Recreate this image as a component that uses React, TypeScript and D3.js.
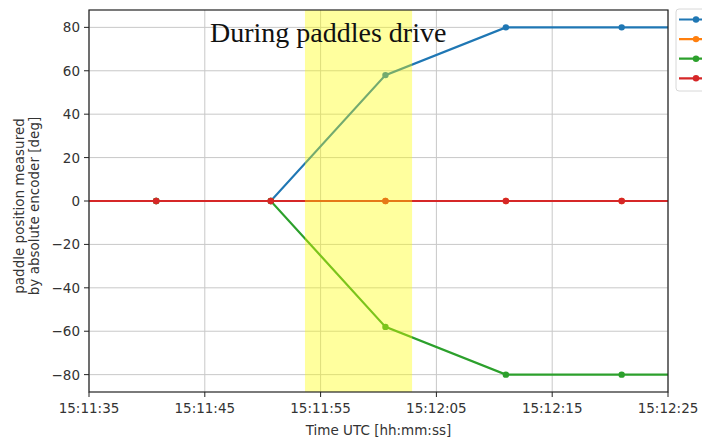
import React from "react";
import * as d3 from "d3";

const times = ["15:11:30.8", "15:11:40.8", "15:11:50.7", "15:12:00.6", "15:12:11.0", "15:12:21.0", "15:12:31.0"];
const paddleA = [0, 0, 0, 58, 80, 80, 80];
const paddleB = [0, 0, 0, 0, 0, 0, 0];
const paddleC = [0, 0, 0, -58, -80, -80, -80];
const paddleD = [0, 0, 0, 0, 0, 0, 0];
const seriesNames = ["paddle A", "paddle B", "paddle C", "paddle D"];
const xTicks = ["15:11:35", "15:11:45", "15:11:55", "15:12:05", "15:12:15", "15:12:25"];
const yTicks = [-80, -60, -40, -20, 0, 20, 40, 60, 80];
const driveSpan = ["15:11:53.65", "15:12:02.9"];
const xDomain = ["15:11:35", "15:12:25"];
const yDomain = [-88, 88];

const colors = ["#1f77b4", "#ff7f0e", "#2ca02c", "#d62728"];

const parse = (s: string) => {
  const [h, m, sec] = s.split(":");
  return new Date(Date.UTC(2020, 0, 1, +h, +m, 0, Math.round(parseFloat(sec) * 1000)));
};

export default function App() {
  const W = 702, H = 441;
  const m = { left: 89, right: 668, top: 10, bottom: 392 };
  const x = d3.scaleUtc().domain(xDomain.map(parse)).range([m.left, m.right]);
  const y = d3.scaleLinear().domain(yDomain).range([m.bottom, m.top]);
  const series = [paddleA, paddleB, paddleC, paddleD];
  const dates = times.map(parse);
  const line = d3
    .line<number>()
    .x((_, i) => x(dates[i]))
    .y((v) => y(v));
  const tickFont = "DejaVu Sans, sans-serif";
  const tickColor = "#333";
  return (
    <svg width={W} height={H} style={{ position: "absolute", left: 0, top: 0, background: "#fff" }}>
      <defs>
        <clipPath id="plot">
          <rect x={m.left} y={m.top} width={m.right - m.left} height={m.bottom - m.top} />
        </clipPath>
      </defs>
      {/* grid */}
      <g stroke="#c8c8c8" strokeWidth={1}>
        {xTicks.map((t) => (
          <line key={t} x1={x(parse(t))} x2={x(parse(t))} y1={m.top} y2={m.bottom} />
        ))}
        {yTicks.map((t) => (
          <line key={t} x1={m.left} x2={m.right} y1={y(t)} y2={y(t)} />
        ))}
      </g>
      {/* lines */}
      <g clipPath="url(#plot)">
        {series.map((s, k) => (
          <g key={k}>
            <path d={line(s) || ""} fill="none" stroke={colors[k]} strokeWidth={2.2} />
            {s.map((v, i) => (
              <circle key={i} cx={x(dates[i])} cy={y(v)} r={3.2} fill={colors[k]} />
            ))}
          </g>
        ))}
        <rect
          x={x(parse(driveSpan[0]))}
          y={m.top}
          width={x(parse(driveSpan[1])) - x(parse(driveSpan[0]))}
          height={m.bottom - m.top}
          fill="#ffff00"
          fillOpacity={0.38}
        />
      </g>
      <text x={210} y={42} fontFamily="Liberation Serif, Times New Roman, serif" fontSize={28} fill="#111">
        During paddles drive
      </text>
      {/* frame */}
      <rect x={m.left} y={m.top} width={m.right - m.left} height={m.bottom - m.top} fill="none" stroke="#222" strokeWidth={1.2} />
      {/* x axis ticks */}
      <g fontFamily={tickFont} fontSize={13.5} fill={tickColor}>
        {xTicks.map((t) => (
          <g key={t}>
            <line x1={x(parse(t))} x2={x(parse(t))} y1={m.bottom} y2={m.bottom + 5} stroke="#222" />
            <text x={x(parse(t))} y={m.bottom + 21} textAnchor="middle">
              {t}
            </text>
          </g>
        ))}
        {yTicks.map((t) => (
          <g key={t}>
            <line x1={m.left - 5} x2={m.left} y1={y(t)} y2={y(t)} stroke="#222" />
            <text x={m.left - 9} y={y(t) + 5} textAnchor="end">
              {t < 0 ? "\u2212" + Math.abs(t) : t}
            </text>
          </g>
        ))}
      </g>
      <text x={(m.left + m.right) / 2} y={435} textAnchor="middle" fontFamily={tickFont} fontSize={13.5} fill={tickColor}>
        Time UTC [hh:mm:ss]
      </text>
      <g transform={`translate(0, ${(m.top + m.bottom) / 2 + 5}) rotate(-90)`} fontFamily={tickFont} fontSize={13.5} fill={tickColor}>
        <text x={0} y={24} textAnchor="middle">paddle position measured</text>
        <text x={0} y={39} textAnchor="middle">by absolute encoder [deg]</text>
      </g>
      {/* legend (labels fall outside the visible area) */}
      <g>
        <rect x={676} y={9} width={60} height={82} rx={3} fill="#fff" stroke="#d8d8d8" />
        {seriesNames.map((n, k) => (
          <g key={n}>
            <line x1={679} x2={712} y1={19.5 + k * 19.6} y2={19.5 + k * 19.6} stroke={colors[k]} strokeWidth={2.2} />
            <circle cx={696} cy={19.5 + k * 19.6} r={3.2} fill={colors[k]} />
          </g>
        ))}
      </g>
    </svg>
  );
}
